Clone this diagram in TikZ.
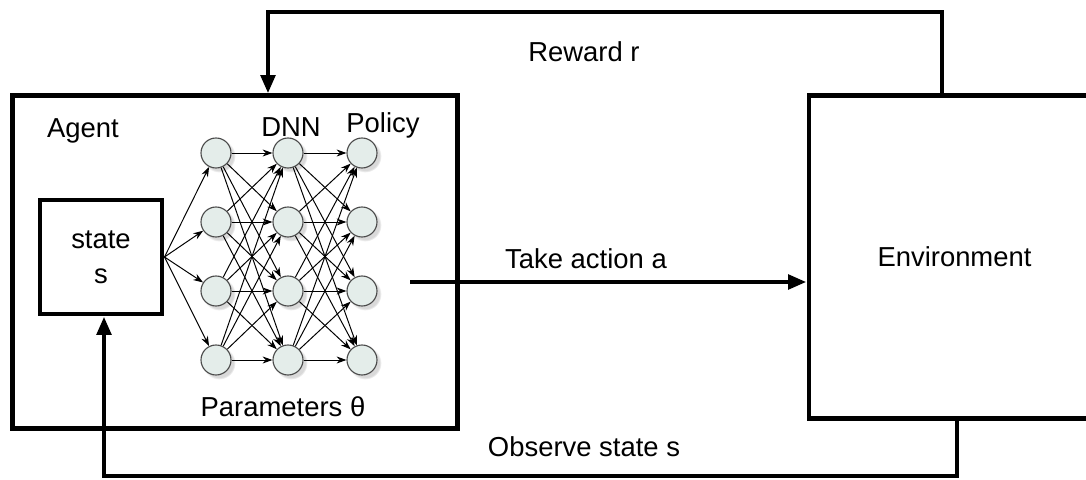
\documentclass[tikz,border=0pt]{standalone}
\usepackage{fontspec}
\setmainfont{Liberation Sans}
\usetikzlibrary{arrows.meta,shadows}
\definecolor{nfill}{HTML}{E4EDEA}
\tikzset{
  box/.style={draw, line width=3.5pt, inner sep=0pt},
  neuron/.style={circle, draw=black!70, line width=0.8pt, fill=nfill, minimum size=0.75cm, inner sep=0pt,
    circular drop shadow={opacity=0.3, shadow xshift=2pt, shadow yshift=-2pt}},
  link/.style={-{Stealth[length=7pt,width=5pt]}, line width=0.7pt},
  flow/.style={-{Triangle[length=13pt,width=10pt]}, line width=3.5pt},
}
\begin{document}
\begin{tikzpicture}[x=0.025cm, y=0.025cm, font=\fontsize{19.5}{25}\selectfont]
  \useasboundingbox (0,0) rectangle (1086,480);

  % agent, environment and the state inside the agent
  \node[box, minimum width=11.1cm, minimum height=8.3cm] (agent) at (235,218) {};
  \node[box, minimum width=7.275cm, minimum height=8.05cm] (env) at (954.5,223) {Environment};
  \node[box, minimum width=3.05cm, minimum height=2.85cm, align=center] (state) at (101,223) {state\\s};

  \node (agentlbl) at (83,349) {Agent};
  \node (dnnlbl) at (291,353) {DNN};
  \node (policylbl) at (383,355) {Policy};
  \node (paramlbl) at (283,73) {Parameters θ};

  % the network: three layers of four
  \foreach \i/\x in {1/216, 2/288, 3/362}
    \foreach \j/\y in {1/327, 2/258, 3/189, 4/120}
      \node[neuron] (n-\i-\j) at (\x,\y) {};

  \foreach \j in {1,...,4}
    \draw[link] (state.east) -- (n-1-\j);
  \foreach \j in {1,...,4}
    \foreach \k in {1,...,4} {
      \draw[link] (n-1-\j) -- (n-2-\k);
      \draw[link] (n-2-\j) -- (n-3-\k);
    }

  % loop between agent and environment
  \coordinate (rewR) at (942,468);
  \coordinate (rewL) at (268,468);
  \draw[flow] (env.north -| rewR) -- (rewR) -- (rewL) -- (agent.north -| rewL);
  \node (rewlbl) at (584,428) {Reward r};

  \coordinate (act) at (410,198);
  \draw[flow] (act) -- (env.west |- act);
  \node (actlbl) at (586,221) {Take action a};

  \coordinate (obsR) at (957,4);
  \coordinate (obsL) at (104,4);
  \draw[flow] (env.south -| obsR) -- (obsR) -- (obsL) -- (state.south -| obsL);
  \node (obslbl) at (584,33) {Observe state s};
\end{tikzpicture}
\end{document}
